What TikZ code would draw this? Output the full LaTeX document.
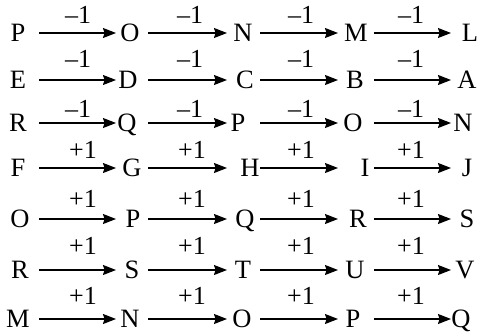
\documentclass[tikz,border=0pt]{standalone}
\usepackage{fontspec}
\setmainfont{Liberation Serif}
\usetikzlibrary{arrows.meta}
\begin{document}
\begin{tikzpicture}[x=1pt,y=-1pt,
  letter/.style={font=\fontsize{26.5}{26.5}\selectfont, inner sep=0pt, text height=17.5pt, text depth=0pt, anchor=center},
  lbl/.style={font=\fontsize{26}{26}\selectfont, inner sep=0pt, anchor=base},
  arr/.style={line width=1.2pt, -{Stealth[length=13pt,width=10pt,inset=1.5pt]}}]
\useasboundingbox (0,0) rectangle (478,334);
% arrow end columns
\coordinate (s1) at (39,0);  \coordinate (e1) at (116,0);
\coordinate (s2) at (148,0); \coordinate (e2) at (227,0);
\coordinate (s3) at (260,0); \coordinate (e3) at (338,0);
\coordinate (s4) at (374,0); \coordinate (e4) at (451,0);
\foreach \r/\y/\a/\ax/\b/\bx/\c/\cx/\d/\dx/\e/\ex/\t/\lx/\ly in {
  1/33/P/18/O/130/N/243/M/356/L/470/\textendash1/0/24,
  2/80/E/18/D/128/C/245/B/355/A/467/\textendash1/0/68,
  3/123/R/18/Q/127/P/238/O/353/N/463/\textendash1/0/117,
  4/168/F/18/G/132/H/250/I/365/J/467/+1/1/158,
  5/219/O/20/P/133/Q/245/R/358/S/467/+1/1/207,
  6/270/R/20/S/132/T/243/U/355/V/465/+1/1/254,
  7/319/M/18/N/130/O/242/P/353/Q/461/+1/1/304}{
  \node[letter] (r\r c1) at (\ax,\y) {\a};
  \node[letter] (r\r c2) at (\bx,\y) {\b};
  \node[letter] (r\r c3) at (\cx,\y) {\c};
  \node[letter] (r\r c4) at (\dx,\y) {\d};
  \node[letter] (r\r c5) at (\ex,\y) {\e};
  \draw[arr] (s1 |- r\r c1) -- (e1 |- r\r c2);
  \draw[arr] (s2 |- r\r c2) -- (e2 |- r\r c3);
  \draw[arr] (s3 |- r\r c3) -- (e3 |- r\r c4);
  \draw[arr] (s4 |- r\r c4) -- (e4 |- r\r c5);
  \node[lbl] (l\r a) at (78+5*\lx,\ly) {\t};
  \node[lbl] (l\r b) at (190+2*\lx,\ly) {\t};
  \node[lbl] (l\r c) at (301,\ly) {\t};
  \node[lbl] (l\r d) at (411,\ly) {\t};
}
\end{tikzpicture}
\end{document}
